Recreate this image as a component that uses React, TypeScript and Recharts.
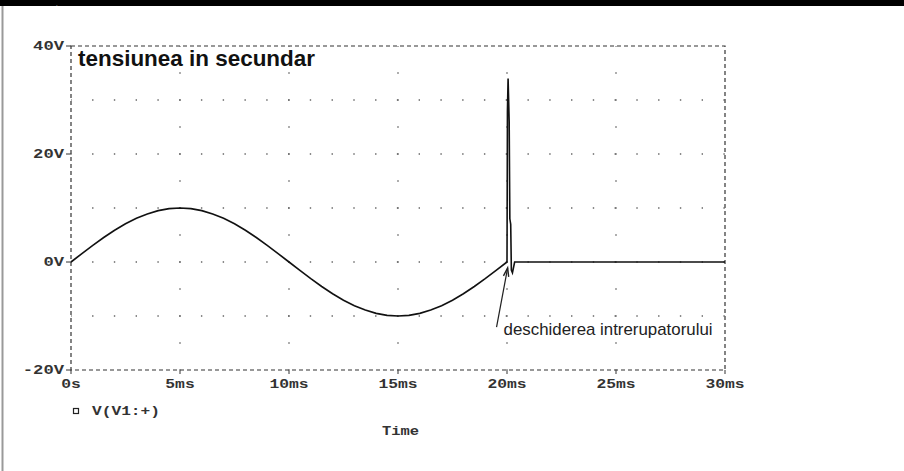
import { LineChart, Line, XAxis, YAxis, ReferenceLine, ReferenceArea } from 'recharts';

// time in ms, voltage in V
const timeMs = [
  0, 0.5, 1, 1.5, 2, 2.5, 3, 3.5, 4, 4.5, 5, 5.5, 6, 6.5, 7, 7.5, 8, 8.5, 9, 9.5,
  10, 10.5, 11, 11.5, 12, 12.5, 13, 13.5, 14, 14.5, 15, 15.5, 16, 16.5, 17, 17.5, 18, 18.5, 19, 19.5,
  20, 20.02, 20.05, 20.1, 20.13, 20.17, 20.2, 20.25, 20.35, 25, 30,
];
const volts = [
  0, 1.56, 3.09, 4.54, 5.88, 7.07, 8.09, 8.91, 9.51, 9.88, 10, 9.88, 9.51, 8.91, 8.09, 7.07, 5.88, 4.54, 3.09, 1.56,
  0, -1.56, -3.09, -4.54, -5.88, -7.07, -8.09, -8.91, -9.51, -9.88, -10, -9.88, -9.51, -8.91, -8.09, -7.07, -5.88, -4.54, -3.09, -1.56,
  0, 28, 34, 26, 8, 7, -1.5, -2, 0, 0, 0,
];

const xTicks = [0, 5, 10, 15, 20, 25, 30];
const xTickLabels = ['0s', '5ms', '10ms', '15ms', '20ms', '25ms', '30ms'];
const yTicks = [-20, 0, 20, 40];
const yTickLabels = ['-20V', '0V', '20V', '40V'];
const gridRowsV = [-10, 0, 10, 20, 30];
const gridColsMs = [5, 10, 15, 20, 25];

const title = 'tensiunea in secundar';
const note = 'deschiderea intrerupatorului';
const legendLabel = 'V(V1:+)';
const xTitle = 'Time';

const MONO = '"Liberation Mono", "DejaVu Sans Mono", monospace';
const SANS = '"Liberation Sans", Arial, sans-serif';

const data = timeMs.map((t, i) => ({ t, v: volts[i] }));

function XTick({ x, y, payload }: any) {
  const label = xTickLabels[xTicks.indexOf(payload.value)] ?? '';
  return (
    <text x={x} y={y} dy="0.71em" textAnchor="middle" fontFamily={MONO} fontSize={12} fontWeight={700} fill="#333"
      textLength={label.length * 9.8} lengthAdjust="spacingAndGlyphs">
      {label}
    </text>
  );
}

function YTick({ x, y, payload }: any) {
  const label = yTickLabels[yTicks.indexOf(payload.value)] ?? '';
  return (
    <text x={x} y={y} dy="0.355em" textAnchor="end" fontFamily={MONO} fontSize={12} fontWeight={700} fill="#333"
      textLength={label.length * 10.3} lengthAdjust="spacingAndGlyphs">
      {label}
    </text>
  );
}

function ArrowNote(props: any) {
  const { x1, y1, x2, y2 } = props;
  const ang = Math.atan2(y2 - y1, x2 - x1);
  const h = 9;
  const a1x = x2 - h * Math.cos(ang - 0.3);
  const a1y = y2 - h * Math.sin(ang - 0.3);
  const a2x = x2 - h * Math.cos(ang + 0.3);
  const a2y = y2 - h * Math.sin(ang + 0.3);
  return (
    <g>
      <line x1={x1} y1={y1} x2={x2} y2={y2} stroke="#222" strokeWidth={1.2} />
      <polyline points={`${a1x},${a1y} ${x2},${y2} ${a2x},${a2y}`} fill="none" stroke="#222" strokeWidth={1.4} />
      <text x={x1 + 7} y={y1 + 8} fontFamily={SANS} fontSize={17} fill="#222" textLength={209} lengthAdjust="spacingAndGlyphs">
        {note}
      </text>
    </g>
  );
}

export default function App() {
  return (
    <div style={{ position: 'absolute', top: 0, left: 0, width: 904, height: 471, background: '#fff' }}>
      <LineChart width={904} height={471} data={data} margin={{ top: 46, right: 179, bottom: 71, left: 11 }}>
        <XAxis dataKey="t" type="number" domain={[0, 30]} ticks={xTicks} axisLine={false}
          tickLine={{ stroke: '#333' }} tickSize={4} tickMargin={5} height={30} tick={<XTick />} />
        <YAxis type="number" domain={[-20, 40]} ticks={yTicks} axisLine={false}
          tickLine={{ stroke: '#333' }} tickSize={5} tickMargin={2} width={60} tick={<YTick />} />
        {gridRowsV.map((v) => (
          <ReferenceLine key={`r${v}`} y={v} stroke="#666" strokeWidth={1.4} strokeDasharray="1.4 20.37" strokeDashoffset={0.7} />
        ))}
        {gridColsMs.map((t) => (
          <ReferenceLine key={`c${t}`} x={t} stroke="#666" strokeWidth={1.4} strokeDasharray="1.4 25.6" strokeDashoffset={0.7} />
        ))}
        <ReferenceArea x1={0} x2={30} y1={-20} y2={40} fill="none" fillOpacity={0} stroke="#333" strokeWidth={1.2} strokeDasharray="4 3" />
        <Line type="linear" dataKey="v" stroke="#111" strokeWidth={1.6} dot={false} isAnimationActive={false} />
        <ReferenceLine segment={[{ x: 19.52, y: -12.04 }, { x: 20.03, y: -1.1 }]} shape={<ArrowNote />} />
      </LineChart>
      <svg width={904} height={471} style={{ position: 'absolute', top: 0, left: 0, pointerEvents: 'none' }}>
        <rect x={0} y={0} width={904} height={6} fill="#000" />
        <text x={56} y={5.5} fontFamily={SANS} fontSize={6} fill="#fff">,</text>
        <line x1={2.5} y1={6} x2={2.5} y2={471} stroke="#999" strokeWidth={2} />
        <text x={78} y={66} fontFamily={SANS} fontSize={22} fontWeight={600} fill="#111" textLength={237} lengthAdjust="spacingAndGlyphs">
          {title}
        </text>
        <rect x={73.5} y={408.5} width={5} height={5} fill="none" stroke="#222" strokeWidth={1.2} />
        <text x={92} y={415} fontFamily={MONO} fontSize={12} fontWeight={700} fill="#333" textLength={68} lengthAdjust="spacingAndGlyphs">
          {legendLabel}
        </text>
        <text x={382} y={435} fontFamily={MONO} fontSize={12} fontWeight={700} fill="#333" textLength={37} lengthAdjust="spacingAndGlyphs">
          {xTitle}
        </text>
      </svg>
    </div>
  );
}
